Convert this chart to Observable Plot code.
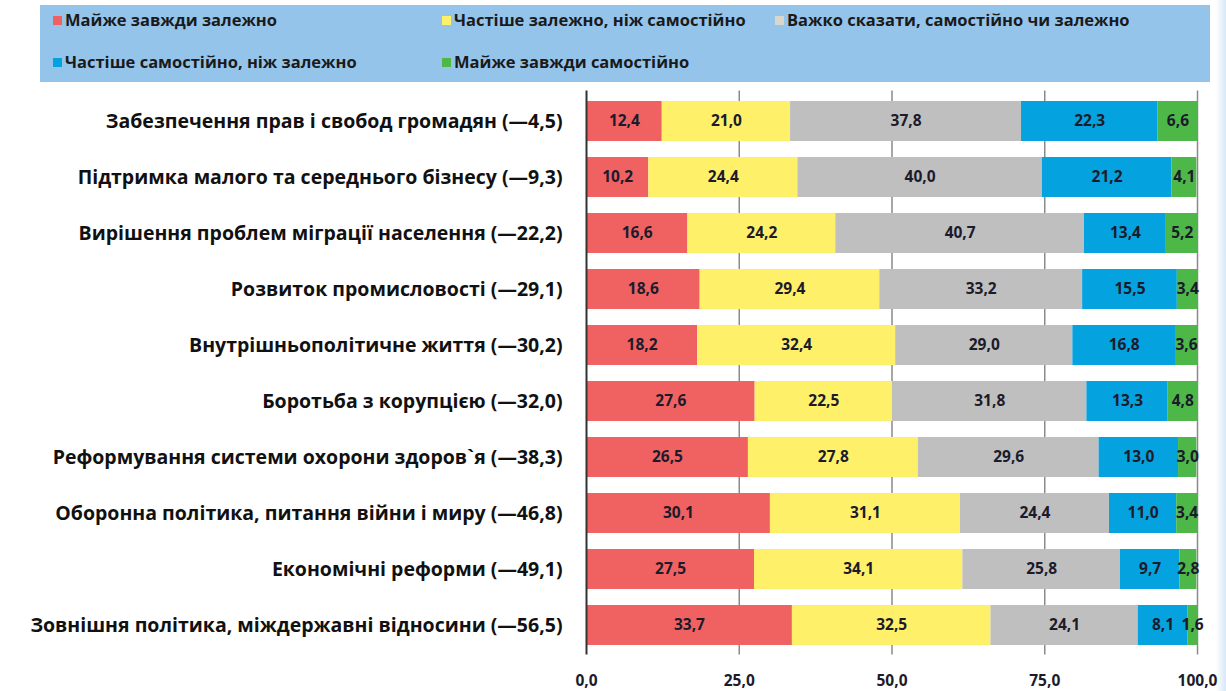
<!DOCTYPE html>
<html>
<head>
<meta charset="utf-8">
<script src="https://cdn.jsdelivr.net/npm/d3@7"></script>
<script src="https://cdn.jsdelivr.net/npm/@observablehq/plot@0.6"></script>
<style>
  body { margin: 0; background: #ffffff; font-family: "Open Sans", sans-serif; }
  #wrap { position: relative; width: 1226px; height: 691px; overflow: hidden; }
  #legend { position: absolute; left: 40px; top: 5px; width: 1170px; height: 77px; background: #95c4eb; }
  .li { position: absolute; font-weight: 700; font-size: 16.5px; color: #1a1a1a; white-space: nowrap; line-height: 22px; }
  .sw { display: inline-block; width: 9px; height: 9px; margin-right: 3px; vertical-align: 1px; }
  #chart { position: absolute; left: 0; top: 85px; }
  #edge { position: absolute; right: 0; top: 0; width: 10px; height: 691px; background: linear-gradient(to right, #ffffff, #d6e8f6); }
</style>
</head>
<body>
<div id="wrap">
  <div id="legend"></div>
  <div id="edge"></div>
  <div id="chart"></div>
</div>
<script>
const categories = [
  "Забезпечення прав і свобод громадян (—4,5)",
  "Підтримка малого та середнього бізнесу (—9,3)",
  "Вирішення проблем міграції населення (—22,2)",
  "Розвиток промисловості (—29,1)",
  "Внутрішньополітичне життя (—30,2)",
  "Боротьба з корупцією (—32,0)",
  "Реформування системи охорони здоров`я (—38,3)",
  "Оборонна політика, питання війни і миру (—46,8)",
  "Економічні реформи (—49,1)",
  "Зовнішня політика, міждержавні відносини (—56,5)"
];
const seriesNames = [
  "Майже завжди залежно",
  "Частіше залежно, ніж самостійно",
  "Важко сказати, самостійно чи залежно",
  "Частіше самостійно, ніж залежно",
  "Майже завжди самостійно"
];
const seriesColors = ["#f06262", "#fff06a", "#bfbfbf", "#04a2df", "#4db748"];
const almostDependent   = [12.4, 10.2, 16.6, 18.6, 18.2, 27.6, 26.5, 30.1, 27.5, 33.7];
const moreDependent     = [21.0, 24.4, 24.2, 29.4, 32.4, 22.5, 27.8, 31.1, 34.1, 32.5];
const hardToSay         = [37.8, 40.0, 40.7, 33.2, 29.0, 31.8, 29.6, 24.4, 25.8, 24.1];
const moreIndependent   = [22.3, 21.2, 13.4, 15.5, 16.8, 13.3, 13.0, 11.0, 9.7, 8.1];
const almostIndependent = [6.6, 4.1, 5.2, 3.4, 3.6, 4.8, 3.0, 3.4, 2.8, 1.6];
const xTicks = [0, 25, 50, 75, 100];

const seriesValues = [almostDependent, moreDependent, hardToSay, moreIndependent, almostIndependent];
const table = [];
categories.forEach((c, i) => {
  seriesNames.forEach((s, j) => {
    table.push({category: c, series: s, order: j, value: seriesValues[j][i]});
  });
});

const fmt = v => v.toFixed(1).replace(".", ",");

// legend
const legendPos = [[13, 4], [402, 4], [735, 4], [13, 46], [402, 46]];
const swatchColors = ["#f06262", "#fff06a", "#d9d6cc", "#04a2df", "#4db748"];
const legend = document.getElementById("legend");
seriesNames.forEach((s, j) => {
  const d = document.createElement("div");
  d.className = "li";
  d.style.left = legendPos[j][0] + "px";
  d.style.top = legendPos[j][1] + "px";
  d.innerHTML = `<span class="sw" style="background:${swatchColors[j]}"></span>${s}`;
  legend.appendChild(d);
});

const chart = Plot.plot({
  width: 1226,
  height: 606,
  marginLeft: 586,
  marginRight: 29,
  marginTop: 5.5,
  marginBottom: 36.5,
  style: {fontFamily: "Open Sans, sans-serif", color: "#111", background: "transparent"},
  x: {domain: [0, 100], axis: null},
  y: {domain: categories, paddingInner: 0.29, paddingOuter: 0.15, axis: null},
  color: {domain: seriesNames, range: seriesColors},
  marks: [
    Plot.ruleX(xTicks.filter(d => d > 0), {stroke: "#8a8a8a", strokeWidth: 1.5}),
    Plot.barX(table, Plot.stackX({
      y: "category", x: "value", fill: "series", order: "order"
    })),
    Plot.ruleX([0], {stroke: "#333", strokeWidth: 2}),
    Plot.text(table, Plot.stackX({
      y: "category", x: "value", z: "series", order: "order",
      text: d => fmt(d.value), fill: "#1b1b2b", fontWeight: 700, fontSize: 15.5
    })),
    Plot.axisY({
      tickSize: 0, tickPadding: 24, fontSize: 19.5, fontWeight: 700, label: null
    }),
    Plot.axisX(xTicks, {
      tickSize: 0, tickPadding: 20, fontSize: 15.5, fontWeight: 700,
      tickFormat: fmt, label: null, fill: "#1b1b2b"
    })
  ]
});
chart.querySelectorAll("g[aria-label='y-axis tick label'] text").forEach(t => t.setAttribute("fill", "#111"));
document.getElementById("chart").appendChild(chart);
</script>
</body>
</html>
